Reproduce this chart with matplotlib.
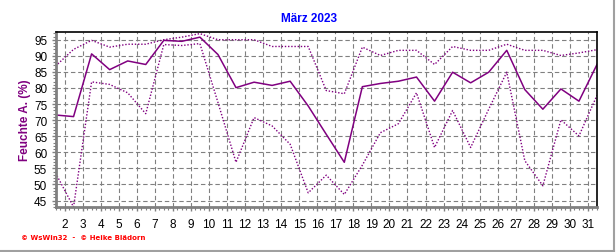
import numpy as np
import matplotlib
matplotlib.use('Agg')
import matplotlib.pyplot as plt
from matplotlib.ticker import MultipleLocator
from matplotlib.lines import Line2D

# Feuchte aussen, Maerz 2023 (Tageswerte)
days = list(range(1, 32))
hum_max = [86.8, 92.0, 94.8, 92.7, 93.6, 93.6, 95.0, 95.8, 96.9, 95.0,
           95.0, 95.0, 92.9, 92.9, 92.9, 79.2, 78.2, 92.7, 90.1, 91.7,
           91.7, 87.3, 92.9, 91.7, 91.7, 93.6, 91.7, 91.7, 90.1, 90.9, 91.9]
hum_mean = [71.6, 71.1, 90.6, 85.7, 88.4, 87.3, 94.8, 94.5, 95.8, 90.4,
            80.1, 81.8, 80.8, 82.1, 74.4, 65.6, 56.9, 80.4, 81.4, 82.1,
            83.4, 75.9, 84.9, 81.6, 84.9, 91.7, 79.5, 73.4, 79.7, 75.9, 87.3]
hum_min = [53.6, 43.0, 81.9, 81.1, 78.5, 72.0, 93.5, 93.2, 93.8, 75.5,
           56.9, 70.8, 68.2, 62.5, 47.4, 52.9, 46.9, 56.0, 66.1, 68.9,
           78.5, 61.5, 73.0, 61.5, 73.4, 84.9, 57.4, 49.6, 70.1, 65.1, 77.7]
xtick_days = list(range(2, 32))
yticks = list(range(45, 100, 5))

PURPLE = '#800080'

fig = plt.figure(figsize=(6.16, 2.53), dpi=100)
fig.patch.set_facecolor('white')
ax = fig.add_axes([55.5 / 616, 1 - 208 / 253, (597 - 55.5) / 616, (208 - 33) / 253])

x = np.array(days) + 0.5   # Tageswert jeweils zur Tagesmitte
ax.plot(x, hum_max, color=PURPLE, lw=1.0, ls=(0, (1, 1.3)))
ax.plot(x, hum_min, color=PURPLE, lw=1.0, ls=(0, (1, 1.3)))
ax.plot(x, hum_mean, color=PURPLE, lw=1.1, ls='-')

ax.set_xlim(1.5, 31.5)
ax.set_ylim(43.0, 97.4)
ax.set_xticks(xtick_days)
ax.set_xticklabels([str(d) for d in xtick_days], fontsize=8.5,
                   family='Liberation Sans')
ax.set_yticks(yticks)
ax.set_yticklabels([str(v) for v in yticks], fontsize=8.5,
                   family='Liberation Sans')
ax.xaxis.set_minor_locator(MultipleLocator(0.25))
ax.yaxis.set_minor_locator(MultipleLocator(1))
ax.tick_params(axis='both', which='major', length=3, color='#808080',
               width=1, pad=3)
ax.tick_params(axis='both', which='minor', length=2, color='#808080',
               width=0.8)
ax.tick_params(axis='x', which='major', pad=5)

ax.grid(True, which='major', color='#808080', lw=0.8, ls=(0, (4, 2.5)))
ax.set_axisbelow(True)

for side in ('left', 'bottom'):
    ax.spines[side].set_color('#808080')
    ax.spines[side].set_linewidth(2.0)
for side in ('top', 'right'):
    ax.spines[side].set_color('black')
    ax.spines[side].set_linewidth(1.2)

ax.set_ylabel('Feuchte A. (%)', color=PURPLE, fontsize=8.5, fontweight='bold',
              family='Liberation Sans', labelpad=2)
fig.text(309 / 616, 1 - 19 / 253, 'März 2023', color='#0000FF', fontsize=8.5,
         fontweight='bold', ha='center', va='center', family='Liberation Sans')
fig.text(21 / 616, 1 - 238.5 / 253, '© WsWin32  -  © Heike Blädorn',
         color='#FF0000', fontsize=5.0, fontweight='bold', ha='left',
         va='center', family='DejaVu Sans')

# grauer Rahmen rechts und unten
fig.add_artist(Line2D([0, 614 / 616], [1 - 251.5 / 253] * 2,
                      transform=fig.transFigure, color='#a0a0a0', lw=1.5))
fig.add_artist(Line2D([614 / 616] * 2, [1 - 251.5 / 253, 1],
                      transform=fig.transFigure, color='#a0a0a0', lw=1.5))

fig.savefig('out.png', dpi=100, facecolor='white')
